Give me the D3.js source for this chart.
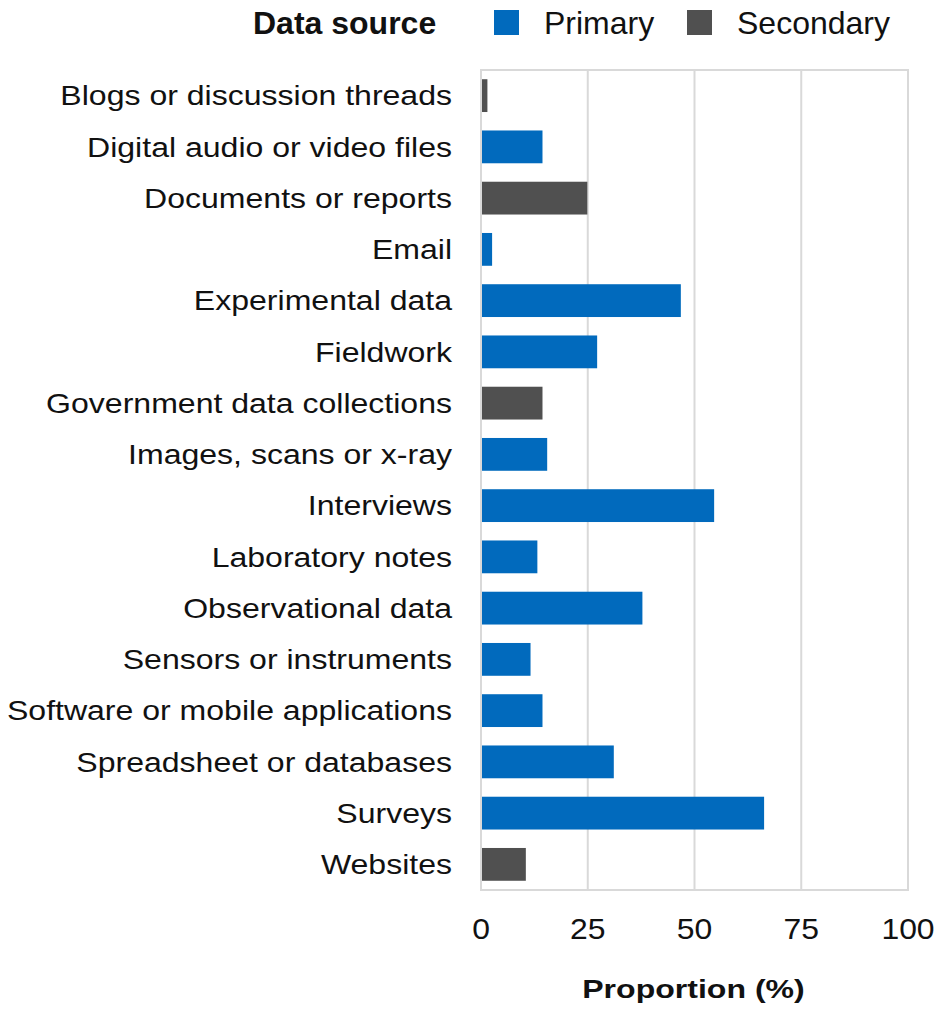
<!DOCTYPE html>
<html>
<head>
<meta charset="utf-8">
<script src="https://cdn.jsdelivr.net/npm/d3@7"></script>
<style>
  body { margin: 0; background: #fff; }
  svg { display: block; font-family: "Liberation Sans", Arial, sans-serif; }
  .grid line { stroke: #d9d9d9; stroke-width: 2; }
  .frame { fill: none; stroke: #d9d9d9; stroke-width: 2; }
  text { fill: #111; }
</style>
</head>
<body>
<div id="chart"></div>
<script>
// data
let categories = [
  "Blogs or discussion threads",
  "Digital audio or video files",
  "Documents or reports",
  "Email",
  "Experimental data",
  "Fieldwork",
  "Government data collections",
  "Images, scans or x-ray",
  "Interviews",
  "Laboratory notes",
  "Observational data",
  "Sensors or instruments",
  "Software or mobile applications",
  "Spreadsheet or databases",
  "Surveys",
  "Websites"
];
let values = [1.5, 14.4, 24.9, 2.6, 46.8, 27.2, 14.4, 15.5, 54.6, 13.2, 37.8, 11.6, 14.4, 31.1, 66.3, 10.5];
let sources = ["Secondary", "Primary", "Secondary", "Primary", "Primary", "Primary", "Secondary", "Primary",
               "Primary", "Primary", "Primary", "Primary", "Primary", "Primary", "Primary", "Secondary"];
let xTicks = [0, 25, 50, 75, 100];
let legendKeys = ["Primary", "Secondary"];
let legendColors = ["#016abd", "#505050"];

let width = 938;
let height = 1014;
let plotLeft = 481, plotRight = 908, plotTop = 70, plotBottom = 890;

let data = categories.map((c, i) => ({ name: c, value: values[i], source: sources[i] }));

let color = d3.scaleOrdinal().domain(legendKeys).range(legendColors);

let scaleX = d3.scaleLinear().domain([0, 100]).range([plotLeft, plotRight]);
let scaleY = d3.scaleBand()
  .domain(categories)
  .range([plotTop, plotBottom])
  .paddingInner(0.36)
  .paddingOuter(0.18);

let svg = d3.select("#chart").append("svg")
  .attr("width", width)
  .attr("height", height);

// text in the picture is a bit wider than the font, so stretch it sideways
function stretch(sel, sx) {
  sel.attr("transform", function() {
    const t = d3.select(this);
    return `translate(${t.attr("data-x")}, ${t.attr("data-y")}) scale(${sx}, 1)`;
  });
}

// gridlines
svg.append("g").attr("class", "grid")
  .selectAll("line")
  .data(xTicks.slice(1, -1))
  .join("line")
  .attr("x1", d => scaleX(d)).attr("x2", d => scaleX(d))
  .attr("y1", plotTop).attr("y2", plotBottom);

svg.append("rect").attr("class", "frame")
  .attr("x", plotLeft).attr("y", plotTop)
  .attr("width", plotRight - plotLeft).attr("height", plotBottom - plotTop);

// bars
svg.append("g")
  .selectAll("rect")
  .data(data)
  .join("rect")
  .attr("x", scaleX(0) + 1)
  .attr("y", d => scaleY(d.name))
  .attr("width", d => scaleX(d.value) - scaleX(0) - 1)
  .attr("height", scaleY.bandwidth())
  .attr("fill", d => color(d.source));

// category labels
svg.append("g")
  .selectAll("text")
  .data(categories)
  .join("text")
  .attr("data-x", 452)
  .attr("data-y", d => scaleY(d) + scaleY.bandwidth() / 2)
  .attr("dy", "0.35em")
  .attr("text-anchor", "end")
  .style("font-size", "27.5px")
  .text(d => d)
  .call(stretch, 1.165);

// x tick labels
svg.append("g")
  .selectAll("text")
  .data(xTicks)
  .join("text")
  .attr("data-x", d => scaleX(d))
  .attr("data-y", 939)
  .attr("text-anchor", "middle")
  .style("font-size", "29px")
  .text(d => d)
  .call(stretch, 1.1);

svg.append("text")
  .attr("data-x", (plotLeft + plotRight) / 2 - 1)
  .attr("data-y", 998)
  .attr("text-anchor", "middle")
  .style("font-size", "26.5px")
  .style("font-weight", "bold")
  .text("Proportion (%)")
  .call(stretch, 1.21);

// legend
let legend = svg.append("g");
legend.append("text")
  .attr("x", 253).attr("y", 34)
  .style("font-size", "32px")
  .style("font-weight", "bold")
  .text("Data source");

let legendX = [494, 687];
let item = legend.selectAll("g.item")
  .data(legendKeys)
  .join("g")
  .attr("class", "item")
  .attr("transform", (d, i) => `translate(${legendX[i]}, 0)`);

item.append("rect")
  .attr("x", 0).attr("y", 10)
  .attr("width", 25).attr("height", 25)
  .attr("fill", d => color(d));

item.append("text")
  .attr("x", 50).attr("y", 34)
  .style("font-size", "32px")
  .text(d => d);
</script>
</body>
</html>
